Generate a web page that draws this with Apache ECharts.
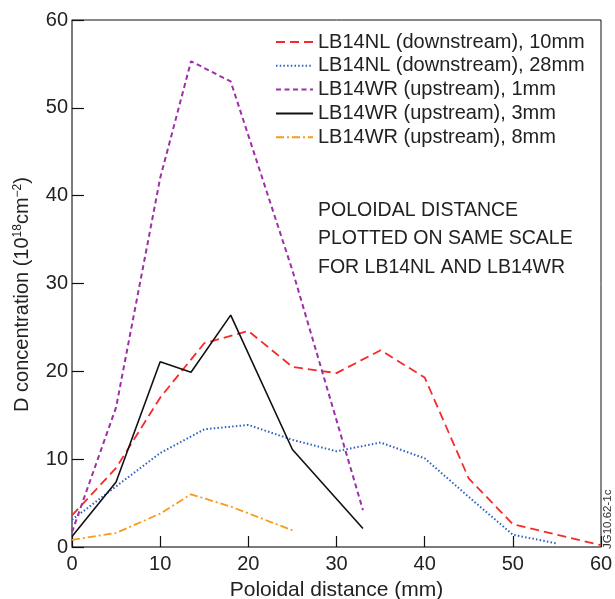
<!DOCTYPE html>
<html>
<head>
<meta charset="utf-8">
<script src="https://cdn.jsdelivr.net/npm/echarts@6/dist/echarts.min.js"></script>
<style>
  html, body { margin: 0; padding: 0; background: #fff; }
  #chart { width: 615px; height: 599px; }
</style>
</head>
<body>
<div id="chart"></div>
<script>
// 各系列数据 [mm, 浓度]
var nl10_x = [0, 5, 10, 15, 20, 25, 30, 35, 40, 45, 50, 60];
var nl10_y = [3.6, 9.0, 17.0, 23.2, 24.6, 20.5, 19.8, 22.4, 19.3, 7.8, 2.6, 0.2];
var nl28_x = [0, 5, 10, 15, 20, 25, 30, 35, 40, 45, 50, 55];
var nl28_y = [3.1, 6.9, 10.7, 13.4, 13.9, 12.2, 10.9, 11.9, 10.1, 5.7, 1.4, 0.4];
var wr1_x = [0, 5, 10, 13.5, 18, 25, 33];
var wr1_y = [1.7, 15.9, 42.0, 55.3, 53.0, 31.5, 4.2];
var wr3_x = [0, 5, 10, 13.5, 18, 25, 33];
var wr3_y = [1.2, 7.4, 21.1, 19.9, 26.4, 11.1, 2.1];
var wr8_x = [0, 5, 10, 13.5, 18, 25];
var wr8_y = [0.8, 1.6, 3.8, 6.0, 4.6, 1.9];
var names = [
    'LB14NL (downstream), 10mm',
    'LB14NL (downstream), 28mm',
    'LB14WR (upstream), 1mm',
    'LB14WR (upstream), 3mm',
    'LB14WR (upstream), 8mm'
];

function pairs(xs, ys) {
    return xs.map(function (x, i) { return [x, ys[i]]; });
}

var chart = echarts.init(document.getElementById('chart'));
var font = 'Liberation Sans, Arial, sans-serif';
var option = {
    animation: false,
    grid: {
        left: 72, right: 14, top: 20, bottom: 52,
        outerBoundsMode: 'none',
        containLabel: false,
        show: true,
        borderColor: '#111',
        borderWidth: 1
    },
    legend: {
        orient: 'vertical',
        left: 275,
        top: 32,
        padding: 0,
        itemWidth: 37,
        itemHeight: 10,
        itemGap: 3.8,
        itemStyle: { opacity: 0 },
        textStyle: { fontSize: 20, lineHeight: 20, color: '#222', fontFamily: font },
        data: names
    },
    xAxis: {
        type: 'value',
        min: 0, max: 60, interval: 10,
        name: 'Poloidal distance (mm)',
        nameLocation: 'middle',
        nameGap: 33,
        nameTextStyle: { fontSize: 21, color: '#222', fontFamily: font },
        axisLine: { lineStyle: { color: '#777', width: 1.5 } },
        axisTick: { inside: true, length: 11, lineStyle: { color: '#111', width: 1.2 } },
        axisLabel: { fontSize: 20, color: '#222', margin: 7, fontFamily: font },
        splitLine: { show: false }
    },
    yAxis: {
        type: 'value',
        min: 0, max: 60, interval: 10,
        name: 'D concentration (10{sup|18}cm{sup|−2})',
        nameLocation: 'middle',
        nameGap: 40,
        nameTextStyle: {
            fontSize: 20, color: '#222', fontFamily: font,
            padding: [0, 22, 0, 0],
            rich: { sup: { fontSize: 12, verticalAlign: 'top', padding: [0, 0, 8, 0], color: '#222' } }
        },
        axisLine: { lineStyle: { color: '#777', width: 1.5 } },
        axisTick: { inside: true, length: 12, lineStyle: { color: '#111', width: 1.2 } },
        axisLabel: { fontSize: 20, color: '#222', margin: 4, fontFamily: font },
        splitLine: { show: false }
    },
    graphic: [{
        type: 'text',
        left: 318,
        top: 196,
        style: {
            text: 'POLOIDAL DISTANCE\nPLOTTED ON SAME SCALE\nFOR LB14NL AND LB14WR',
            font: '19.5px ' + font,
            fill: '#222',
            lineHeight: 28.5
        }
    }, {
        type: 'text',
        rotation: Math.PI / 2,
        x: 602,
        y: 549,
        style: {
            text: 'JG10.62-1c',
            font: '11.5px ' + font,
            fill: '#333'
        }
    }],
    series: [{
        name: names[0],
        type: 'line',
        symbol: 'none',
        data: pairs(nl10_x, nl10_y),
        lineStyle: { color: '#f52a2a', width: 1.8, type: [9, 5] },
        itemStyle: { color: '#f52a2a' }
    }, {
        name: names[1],
        type: 'line',
        symbol: 'none',
        data: pairs(nl28_x, nl28_y),
        lineStyle: { color: '#2b62c0', width: 2, type: [1.5, 2.2] },
        itemStyle: { color: '#2b62c0' }
    }, {
        name: names[2],
        type: 'line',
        symbol: 'none',
        data: pairs(wr1_x, wr1_y),
        lineStyle: { color: '#9c30a6', width: 2, type: [5, 3.5] },
        itemStyle: { color: '#9c30a6' }
    }, {
        name: names[3],
        type: 'line',
        symbol: 'none',
        data: pairs(wr3_x, wr3_y),
        lineStyle: { color: '#111', width: 1.6, type: 'solid' },
        itemStyle: { color: '#111' }
    }, {
        name: names[4],
        type: 'line',
        symbol: 'none',
        data: pairs(wr8_x, wr8_y),
        lineStyle: { color: '#f89a1c', width: 1.8, type: [8, 3, 2, 3] },
        itemStyle: { color: '#f89a1c' }
    }]
};
chart.setOption(option);
</script>
</body>
</html>
